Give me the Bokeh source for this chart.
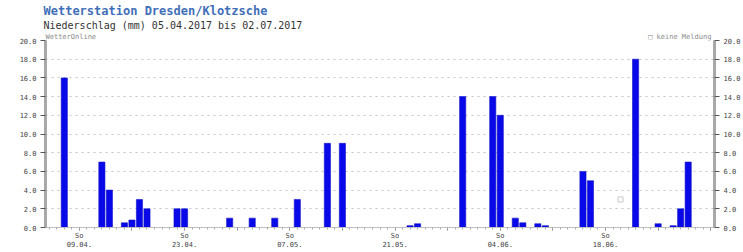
from datetime import date
from bokeh.plotting import figure
from bokeh.models import (LinearAxis, FixedTicker, Range1d, Title, ColumnDataSource,
                          PrintfTickFormatter)
from bokeh.embed import file_html
from bokeh.resources import INLINE

# ---- data ----
start_date = "05.04.2017"
end_date = "02.07.2017"
rain_dates = ["07.04.", "12.04.", "13.04.", "15.04.", "16.04.", "17.04.", "18.04.",
              "22.04.", "23.04.", "29.04.", "02.05.", "05.05.", "08.05.", "12.05.",
              "14.05.", "23.05.", "24.05.", "30.05.", "03.06.", "04.06.", "06.06.",
              "07.06.", "09.06.", "10.06.", "15.06.", "16.06.", "22.06.", "25.06.",
              "27.06.", "28.06.", "29.06."]
rain_mm = [16.0, 7.0, 4.0, 0.5, 0.8, 3.0, 2.0,
           2.0, 2.0, 1.0, 1.0, 1.0, 3.0, 9.0,
           9.0, 0.2, 0.4, 14.0, 14.0, 12.0, 1.0,
           0.5, 0.4, 0.2, 6.0, 5.0, 18.0, 0.4,
           0.2, 2.0, 7.0]
missing_dates = ["20.06."]
missing_mm = [3.0]
sunday_labels = ["09.04.", "23.04.", "07.05.", "21.05.", "04.06.", "18.06."]
y_ticks = [0, 2, 4, 6, 8, 10, 12, 14, 16, 18, 20]
title1 = "Wetterstation Dresden/Klotzsche"
title2 = "Niederschlag (mm) " + start_date + " bis " + end_date
source_text = "WetterOnline"
legend_text = "\u25a1 keine Meldung"


def to_date(s, year=2017):
    d, m = s.strip(".").split(".")[:2]
    return date(year, int(m), int(d))


d0 = date(2017, 4, 5)
d_end = date(2017, 7, 2)
n_days = (d_end - d0).days + 1
xs = [(to_date(s) - d0).days for s in rain_dates]
mxs = [(to_date(s) - d0).days for s in missing_dates]

sundays = [d for d in range(n_days) if (d0.toordinal() + d) % 7 == 0]
overrides = {}
for d in sundays:
    dd = date.fromordinal(d0.toordinal() + d)
    lab = dd.strftime("%d.%m.")
    overrides[d] = ("So\n" + lab) if lab in sunday_labels else ""

src = ColumnDataSource(dict(x=xs, top=rain_mm))

p = figure(width=743, height=252, x_range=Range1d(-0.5, n_days - 0.5),
           y_range=Range1d(0, 20), output_backend="svg", toolbar_location=None,
           min_border_left=45, min_border_right=27, min_border_top=40,
           min_border_bottom=25, y_axis_location=None)
p.outline_line_color = None
p.background_fill_color = "white"

p.vbar(x="x", top="top", bottom=0, width=0.82, source=src,
       fill_color="#0808e8", line_color="#1212c8", line_width=0.6)
p.scatter(x=mxs, y=missing_mm, marker="square", size=5, fill_color="white",
          line_color="#c8c8c8", line_width=1)

p.xgrid.visible = False
p.ygrid.ticker = FixedTicker(ticks=y_ticks)
p.ygrid.grid_line_color = "#c4c4c4"
p.ygrid.grid_line_dash = "2 4"
p.ygrid.grid_line_width = 1

# x axis
xa = p.xaxis[0]
xa.ticker = FixedTicker(ticks=sundays, minor_ticks=list(range(n_days)))
xa.major_label_overrides = overrides
xa.axis_line_color = "#c0c0c0"
xa.major_tick_line_color = "#777777"
xa.major_tick_out = 3
xa.major_tick_in = 0
xa.minor_tick_line_color = "#aaaaaa"
xa.minor_tick_out = 2
xa.minor_tick_in = 0
xa.major_label_text_font = "DejaVu Sans Mono"
xa.major_label_text_font_size = "7px"
xa.major_label_text_color = "#444444"
xa.major_label_standoff = 1

for loc in ("left", "right"):
    ax = LinearAxis(ticker=FixedTicker(ticks=y_ticks))
    ax.axis_line_color = "#a8a8a8"
    ax.axis_line_width = 3
    ax.major_tick_line_color = "#555555"
    ax.major_tick_out = 5
    ax.major_tick_in = 0
    ax.minor_tick_line_color = None
    ax.major_label_text_font = "DejaVu Sans Mono"
    ax.major_label_text_font_size = "7px"
    ax.major_label_text_color = "#444444"
    ax.major_label_standoff = 4
    ax.formatter = PrintfTickFormatter(format="%.1f")
    p.add_layout(ax, loc)

# header rows: p.title is outermost, then added titles stack outward from the plot
nb = "\u00a0"
row3 = source_text + nb * 131 + legend_text
p.title = Title(text=title1, align="left", offset=-2, standoff=0,
                text_font="DejaVu Sans Mono", text_font_size="12px",
                text_font_style="bold", text_color="#3f6fb8")
p.add_layout(Title(text=row3, align="left", offset=0, standoff=0,
                   text_font="DejaVu Sans Mono", text_font_size="7px",
                   text_font_style="normal", text_color="#8a8a8a"), "above")
p.add_layout(Title(text=title2, align="left", offset=-2, standoff=0,
                   text_font="DejaVu Sans Mono", text_font_size="10px",
                   text_font_style="normal", text_color="#333333"), "above")

open("out.html", "w").write(file_html(p, INLINE))
